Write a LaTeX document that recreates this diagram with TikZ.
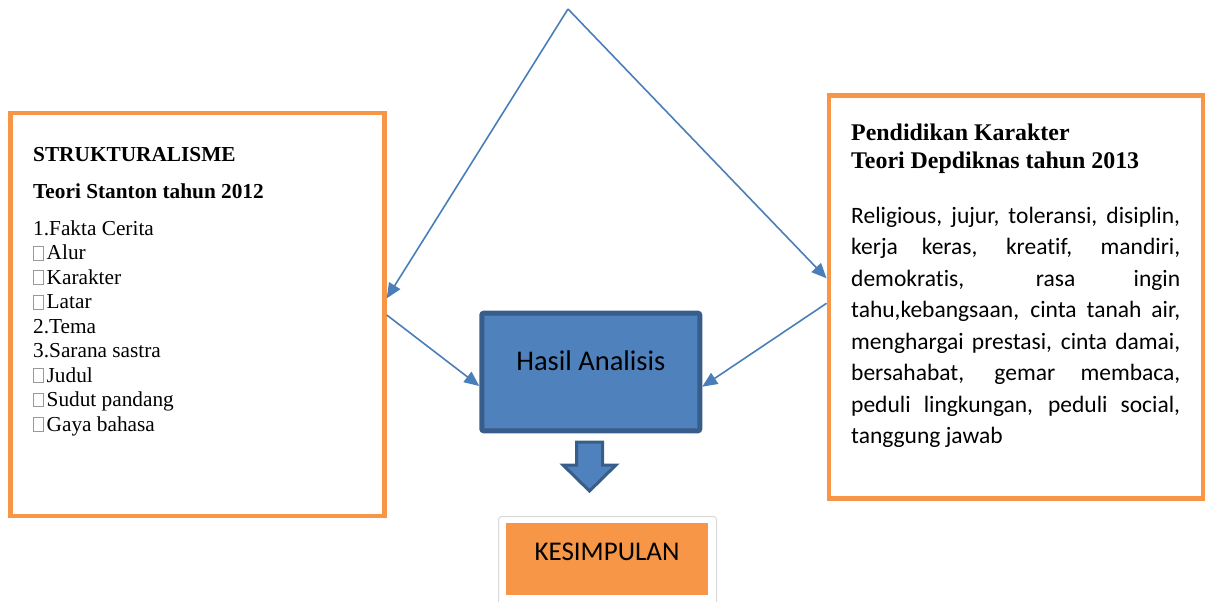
\documentclass[tikz,border=0pt]{standalone}
\usepackage{fontspec}
\setmainfont{Liberation Serif}
\newfontfamily\calibri[Ligatures=NoCommon]{Carlito}
\usetikzlibrary{arrows.meta,calc}
\definecolor{boxorange}{HTML}{F79646}
\definecolor{lineblue}{HTML}{4A7EBB}
\definecolor{fillblue}{HTML}{4F81BD}
\definecolor{edgeblue}{HTML}{385D8A}
\newcommand{\tofu}{{\color{black!40}\setlength{\fboxsep}{0pt}\setlength{\fboxrule}{0.7pt}\fbox{\rule{0pt}{13pt}\hspace{9.6pt}}}\hspace{2.5pt}}

\begin{document}
\begin{tikzpicture}[x=1pt,y=-1pt,
	textbox/.style={draw=boxorange, line width=4.5pt, minimum width=374pt, minimum height=403pt, inner sep=0pt},
	link/.style={lineblue, line width=1.6pt, -{Triangle[length=15pt,width=13pt]}}]
	\useasboundingbox (0,0) rectangle (1208,602);
	\coordinate (apex) at (568,9);
	\node[textbox] (struk) at (197.5,314.3) {};
	\node[textbox] (karakter) at (1015.8,296.9) {};
	\node[draw=edgeblue, fill=fillblue, line width=5pt, rounded corners=2pt, minimum width=218pt, minimum height=117.6pt, inner sep=0pt, text height=18pt, text depth=20.6pt] (hasil) at (590.8,372) {\calibri\fontsize{28.5}{30}\selectfont Hasil Analisis};
	% left box text
	\node[anchor=base west, inner sep=0pt] (struktext) at (33,161.7) {\parbox[t]{330pt}{\raggedright\fontsize{21.3}{24.5}\selectfont
		\textbf{STRUKTURALISME}\\[11.8pt]
		\textbf{Teori Stanton tahun 2012}\\[12.5pt]
		1.Fakta Cerita\\
		\tofu Alur\\
		\tofu Karakter\\
		\tofu Latar\\
		2.Tema\\
		3.Sarana sastra\\
		\tofu Judul\\
		\tofu Sudut pandang\\
		\tofu Gaya bahasa}};
	% right box text
	\node[anchor=base west, inner sep=0pt] (karaktertitle) at (851,140) {\parbox[t]{340pt}{\raggedright\fontsize{23.9}{28}\selectfont\bfseries
		Pendidikan Karakter\\
		Teori Depdiknas tahun 2013}};
	\node[anchor=base west, inner sep=0pt] (karaktertext) at (851,223.3) {\parbox[t]{329pt}{\calibri\fontsize{23.5}{31.5}\selectfont
		\hyphenpenalty=10000 \tolerance=10000 \hbadness=10000 \parindent=0pt
		Religious, jujur, toleransi, disiplin, \linebreak
		kerja keras, kreatif, mandiri, \linebreak
		demokratis, rasa ingin \linebreak
		tahu,kebangsaan, cinta tanah air, \linebreak
		menghargai prestasi, cinta damai, \linebreak
		bersahabat, gemar membaca, \linebreak
		peduli lingkungan, peduli social, \linebreak
		tanggung jawab}};
	% connectors
	\draw[link] (apex) -- ([yshift=16pt]struk.east);
	\draw[link] (apex) -- ([yshift=18.6pt]karakter.west);
	\draw[link] ([yshift=-0.7pt]struk.east) -- ([yshift=-14pt]hasil.west);
	\draw[link] ([yshift=-6.4pt]karakter.west) -- ([yshift=-14.7pt]hasil.east);
	% block arrow down
	\draw[edgeblue, fill=fillblue, line width=3pt, line join=miter] (576.5,442) -- (602.5,442) -- (602.5,465) -- (616,465) -- (589.5,491) -- (563,465) -- (576.5,465) -- cycle;
	% kesimpulan
	\draw[black!15, fill=white, line width=1pt, rounded corners=3pt] (498.5,516.5) rectangle (716.5,620);
	\node[fill=boxorange, minimum width=202pt, minimum height=72pt, inner sep=0pt, text height=18pt, text depth=16pt] (kesimpulan) at (607,559) {\calibri\fontsize{27}{29}\selectfont KESIMPULAN};
\end{tikzpicture}
\end{document}
